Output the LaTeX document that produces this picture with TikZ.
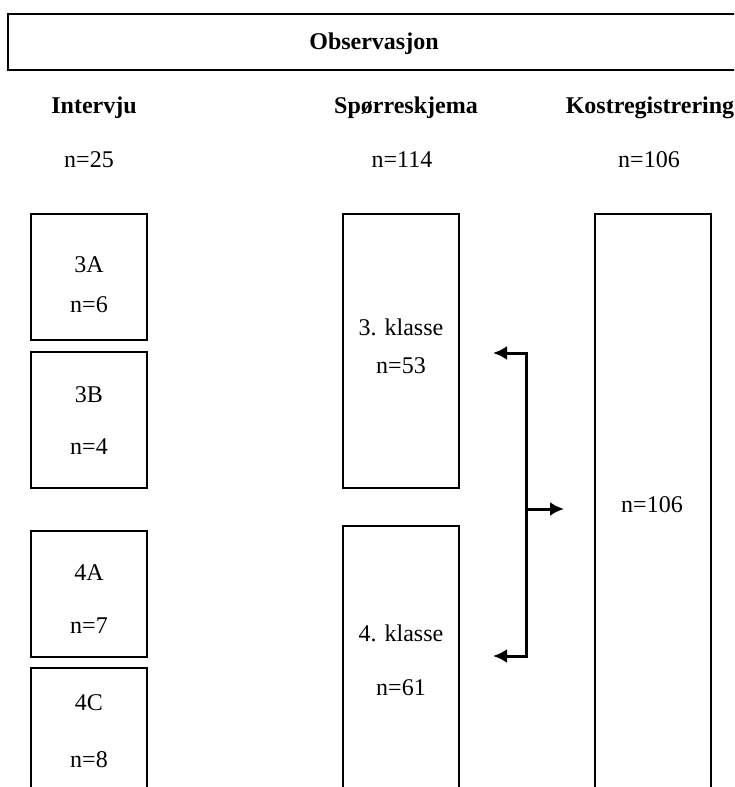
\documentclass[tikz,border=0pt]{standalone}
\usepackage{fontspec}
\setmainfont{Liberation Serif}
\usetikzlibrary{arrows.meta, positioning}

\begin{document}
\begin{tikzpicture}[
        x=1pt, y=-1pt,
        every node/.style={font=\fontsize{24}{28}\selectfont},
        box/.style={draw, line width=1.8pt, inner sep=0pt, minimum width=116pt},
        head/.style={font=\fontsize{24}{28}\selectfont\bfseries},
        arr/.style={-{Latex[length=14pt, width=14pt]}, line width=3pt}
      ]
      \clip (0,0) rectangle (734,787);
      \useasboundingbox (0,0) rectangle (734,787);

      % top bar
      \node[draw, line width=2.2pt, minimum width=737pt, minimum height=56pt, inner sep=0pt] (obs) at (376.5,42) {};
      \node[head] (obstxt) at (374,44) {Observasjon};

      % column headers
      \node[head] (intv) at (94,108) {Intervju};
      \node[head] (sporr) at (406,108) {Spørreskjema};
      \node[head] (kost) at (650,108) {Kostregistrering};
      \node (nintv) at (89,160) {n=25};
      \node (nsporr) at (402,160) {n=114};
      \node (nkost) at (649,160) {n=106};

      % Intervju
      \node[box, minimum height=126pt] (b3a) at (89,277) {};
      \node[box, minimum height=136pt] (b3b) at (89,420) {};
      \node[box, minimum height=126pt] (b4a) at (89,594) {};
      \node[box, minimum height=132pt] (b4c) at (89,734) {};
      \node (l3a) at (89,265) {3A};
      \node (n3a) at (89,305) {n=6};
      \node (l3b) at (89,395) {3B};
      \node (n3b) at (89,447) {n=4};
      \node (l4a) at (89,573) {4A};
      \node (n4a) at (89,626) {n=7};
      \node (l4c) at (89,703) {4C};
      \node (n4c) at (89,760) {n=8};

      % Spørreskjema
      \node[box, minimum height=274pt] (sp3) at (401,351) {};
      \node[box, minimum height=274pt] (sp4) at (401,663) {};
      \node (lsp3) at (401,327) {3. klasse};
      \node (nsp3) at (401,366) {n=53};
      \node (lsp4) at (401,633) {4. klasse};
      \node (nsp4) at (401,688) {n=61};

      % Kostregistrering
      \node[box, minimum height=586pt] (kb) at (653,507) {};
      \node (nkb) at (652,505) {n=106};

      % arrows
      \coordinate (fork) at (526,509);
      \coordinate (to3) at (493,353);
      \coordinate (to4) at (493,656);
      \coordinate (tokost) at (564,509);
      \draw[arr] (fork) |- (to3);
      \draw[arr] (fork) |- (to4);
      \draw[arr] (fork) -- (tokost);
    \end{tikzpicture}
\end{document}
